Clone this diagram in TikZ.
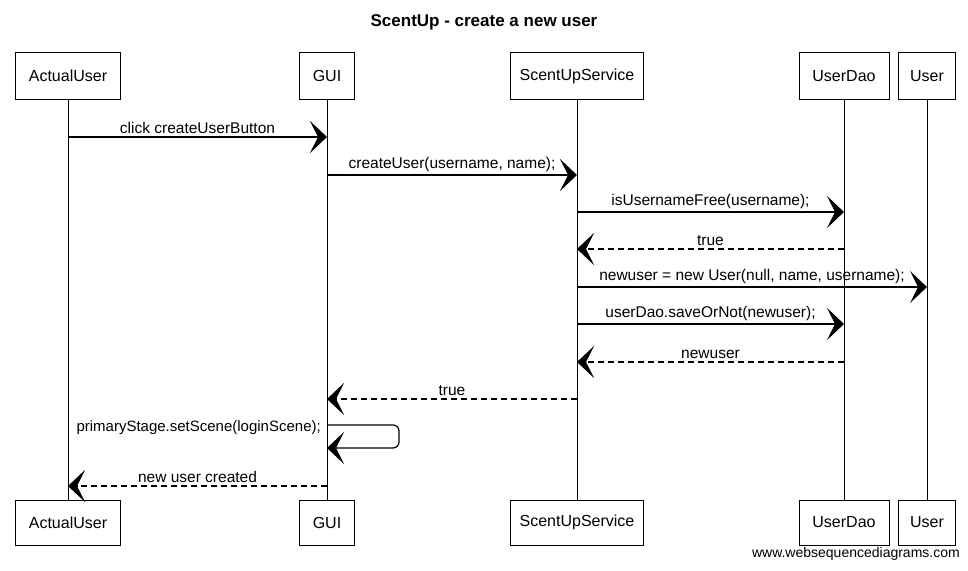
\documentclass[tikz,border=0pt]{standalone}
\usepackage{fontspec}
\setmainfont{Liberation Sans}
\usetikzlibrary{arrows.meta}
\tikzset{
  actor/.style={draw, line width=0.9pt, minimum height=47pt, inner sep=0pt, font=\fontsize{16}{19}\selectfont},
  lifeline/.style={line width=0.8pt},
  msg/.style={line width=1.2pt, -{Stealth[length=17pt, width=32pt, inset=8pt]}},
  ret/.style={msg, dash pattern=on 6pt off 4pt},
  lbl/.style={above, inner sep=2.5pt, font=\fontsize{15.5}{18}\selectfont},
}
\begin{document}
\begin{tikzpicture}[x=1pt, y=-1pt]
\useasboundingbox (0,0) rectangle (968,570);
\node[font=\bfseries\fontsize{17}{20}\selectfont] (title) at (484,22) {ScentUp - create a new user};
% top actors
\node[actor, minimum width=105pt] (au) at (68,76) {ActualUser};
\node[actor, minimum width=55pt] (gui) at (327,76) {GUI};
\node[actor, minimum width=133pt] (svc) at (577,76) {ScentUpService};
\node[actor, minimum width=90pt] (dao) at (844,76) {UserDao};
\node[actor, minimum width=57pt] (usr) at (927,76) {User};
% bottom actors
\node[actor, minimum width=105pt, minimum height=45pt] (au2) at (68,522.5) {ActualUser};
\node[actor, minimum width=55pt, minimum height=45pt] (gui2) at (327,522.5) {GUI};
\node[actor, minimum width=133pt, minimum height=45pt] (svc2) at (577,522.5) {ScentUpService};
\node[actor, minimum width=90pt, minimum height=45pt] (dao2) at (844,522.5) {UserDao};
\node[actor, minimum width=57pt, minimum height=45pt] (usr2) at (927,522.5) {User};
% lifelines
\draw[lifeline] (au) -- (au2);
\draw[lifeline] (gui) -- (gui2);
\draw[lifeline] (svc) -- (svc2);
\draw[lifeline] (dao) -- (dao2);
\draw[lifeline] (usr) -- (usr2);
% message endpoints
\coordinate (m1a) at (68,137);  \coordinate (m1b) at (327,137);
\coordinate (m2a) at (327,175); \coordinate (m2b) at (577,175);
\coordinate (m3a) at (577,212); \coordinate (m3b) at (844,212);
\coordinate (m4a) at (844,249); \coordinate (m4b) at (577,249);
\coordinate (m5a) at (577,287); \coordinate (m5b) at (927,287);
\coordinate (m6a) at (577,324); \coordinate (m6b) at (844,324);
\coordinate (m7a) at (844,362); \coordinate (m7b) at (577,362);
\coordinate (m8a) at (577,399); \coordinate (m8b) at (327,399);
\coordinate (s1) at (327,425);  \coordinate (s2) at (327,448);
\coordinate (m10a) at (327,486); \coordinate (m10b) at (68,486);
% messages
\draw[msg] (m1a) -- node[lbl] (l1) {click createUserButton} (m1b);
\draw[msg] (m2a) -- node[lbl] (l2) {createUser(username, name);} (m2b);
\draw[msg] (m3a) -- node[lbl] (l3) {isUsernameFree(username);} (m3b);
\draw[ret] (m4a) -- node[lbl] (l4) {true} (m4b);
\draw[msg] (m5a) -- node[lbl] (l5) {newuser = new User(null, name, username);} (m5b);
\draw[msg] (m6a) -- node[lbl] (l6) {userDao.saveOrNot(newuser);} (m6b);
\draw[ret] (m7a) -- node[lbl] (l7) {newuser} (m7b);
\draw[ret] (m8a) -- node[lbl] (l8) {true} (m8b);
\draw[msg, rounded corners=6pt] (s1) -- ++(72,0) |- (s2);
\node[font=\fontsize{15}{18}\selectfont, anchor=east, inner sep=2pt] (l9) at (323,428) {primaryStage.setScene(loginScene);};
\draw[ret] (m10a) -- node[lbl] (l10) {new user created} (m10b);
\node[font=\fontsize{14}{16}\selectfont, anchor=east, inner sep=0pt] (foot) at (960,554) {www.websequencediagrams.com};
\end{tikzpicture}
\end{document}
